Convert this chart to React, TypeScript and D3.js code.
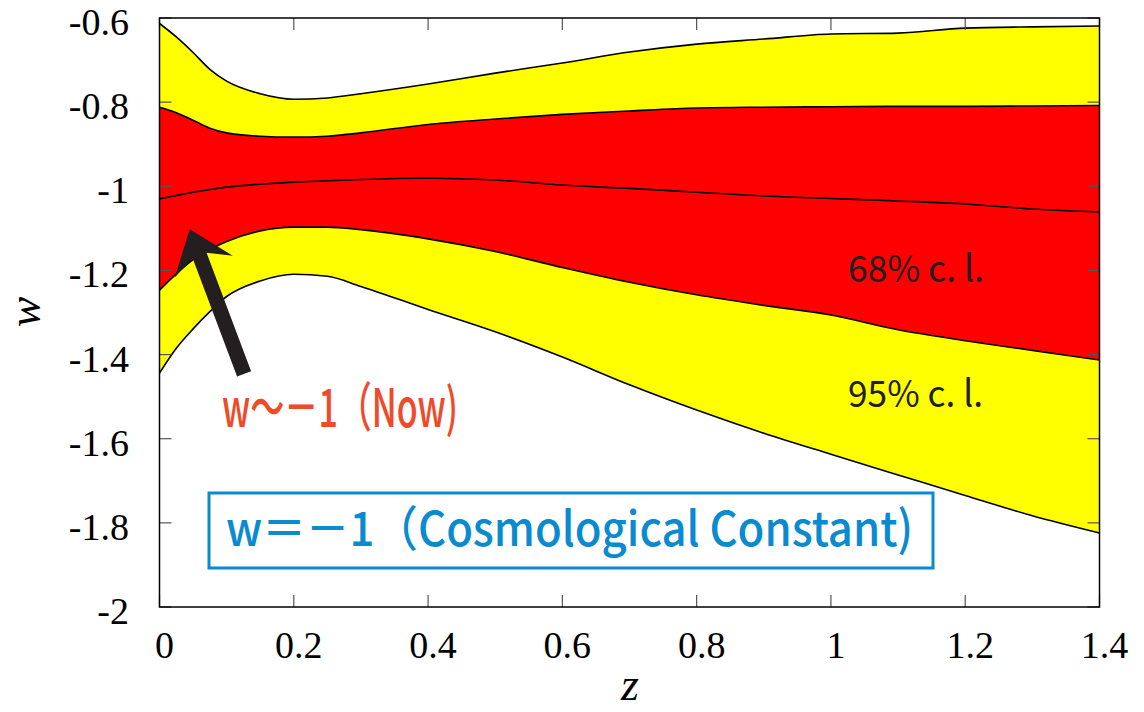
import * as d3 from "d3";
import React from "react";

// redshift grid and w(z) bands
const zGrid = [0, 0.025, 0.05, 0.075, 0.1, 0.15, 0.2, 0.25, 0.3, 0.4, 0.5, 0.6, 0.7, 0.8, 0.9, 1.0, 1.1, 1.2, 1.3, 1.4];
const upper95 = [-0.613, -0.645, -0.682, -0.722, -0.75, -0.78, -0.793, -0.79, -0.78, -0.757, -0.731, -0.707, -0.681, -0.662, -0.65, -0.638, -0.636, -0.624, -0.621, -0.619];
const upper68 = [-0.812, -0.825, -0.843, -0.862, -0.873, -0.881, -0.883, -0.881, -0.873, -0.853, -0.84, -0.829, -0.821, -0.814, -0.812, -0.811, -0.81, -0.81, -0.809, -0.808];
const median = [-1.03, -1.022, -1.014, -1.008, -1.002, -0.995, -0.99, -0.987, -0.984, -0.981, -0.985, -0.997, -1.005, -1.014, -1.023, -1.029, -1.035, -1.042, -1.054, -1.061];
const lower68 = [-1.247, -1.208, -1.174, -1.15, -1.131, -1.106, -1.097, -1.097, -1.103, -1.125, -1.155, -1.193, -1.228, -1.258, -1.283, -1.306, -1.341, -1.367, -1.39, -1.413];
const lower95 = [-1.444, -1.385, -1.339, -1.298, -1.262, -1.225, -1.209, -1.214, -1.238, -1.293, -1.346, -1.406, -1.472, -1.532, -1.587, -1.637, -1.686, -1.735, -1.783, -1.824];

const xTicks = [0, 0.2, 0.4, 0.6, 0.8, 1, 1.2, 1.4];
const yTicks = [-0.6, -0.8, -1, -1.2, -1.4, -1.6, -1.8, -2];

// arrow pointing at w~-1 today (tail, tip) in data units
const arrowTail = { z: 0.126, w: -1.446 };
const arrowTip = { z: 0.045, w: -1.102 };

const W = 1144;
const H = 712;
const left = 159.5, right = 1099.5, top = 18, bottom = 607;

const serif = "'Liberation Serif', 'Times New Roman', Times, serif";
const gothic = "'Noto Sans CJK JP', 'Noto Sans', sans-serif";

export default function App() {
  const x = d3.scaleLinear().domain([0, 1.4]).range([left, right]);
  const y = d3.scaleLinear().domain([-2, -0.6]).range([bottom, top]);

  const band = (lo: number[], hi: number[]) =>
    d3.area<number>()
      .x((d, i) => x(zGrid[i]))
      .y0((d, i) => y(lo[i]))
      .y1((d, i) => y(hi[i]))
      .curve(d3.curveMonotoneX)(zGrid);

  const line = (vals: number[]) =>
    d3.line<number>()
      .x((d, i) => x(zGrid[i]))
      .y((d, i) => y(vals[i]))
      .curve(d3.curveMonotoneX)(zGrid);

  // arrow polygon built in pixel space from the scaled endpoints
  const tx = x(arrowTip.z), ty = y(arrowTip.w);
  const sx = x(arrowTail.z), sy = y(arrowTail.w);
  const len = Math.hypot(sx - tx, sy - ty);
  const ux = (sx - tx) / len, uy = (sy - ty) / len;
  const px = -uy, py = ux;
  const pt = (a: number, b: number, bx = tx, by = ty) => `${bx + ux * a + px * b},${by + uy * a + py * b}`;
  const arrowPts = [
    pt(0, 0),
    pt(40, 31),
    pt(28, 7.5),
    pt(0, 7.5, sx, sy),
    pt(0, -7.5, sx, sy),
    pt(28, -7.5),
    pt(40, -31),
  ].join(" ");

  const tickLen = 12;
  const tickStyle = { fontFamily: serif, fontSize: 38 };

  return (
    <svg width={W} height={H} style={{ position: "absolute", left: 0, top: 0, display: "block" }}>
      <rect width={W} height={H} fill="#fff" />
      <path d={band(lower95, upper95) || ""} fill="#ffff00" />
      <path d={band(lower68, upper68) || ""} fill="#ff0000" />
      {[upper95, upper68, median, lower68, lower95].map((v, i) => (
        <path key={i} d={line(v) || ""} fill="none" stroke="#000" strokeWidth={1.6} />
      ))}

      {/* ticks on all four sides */}
      <g stroke="#555" strokeWidth={1.2}>
        {xTicks.map((t) => (
          <g key={"x" + t}>
            <line x1={x(t)} x2={x(t)} y1={bottom} y2={bottom - tickLen} />
            <line x1={x(t)} x2={x(t)} y1={top} y2={top + tickLen} />
          </g>
        ))}
        {yTicks.map((t) => (
          <g key={"y" + t}>
            <line x1={left} x2={left + tickLen} y1={y(t)} y2={y(t)} />
            <line x1={right} x2={right - tickLen} y1={y(t)} y2={y(t)} />
          </g>
        ))}
      </g>
      <rect x={left} y={top} width={right - left} height={bottom - top} fill="none" stroke="#000" strokeWidth={1.5} />

      {/* tick labels */}
      {yTicks.map((t) => (
        <text key={"yl" + t} x={129} y={y(t) + 17} textAnchor="end" fill="#000" style={tickStyle}>{String(t)}</text>
      ))}
      {xTicks.map((t) => (
        <text key={"xl" + t} x={x(t) + 5} y={658} textAnchor="middle" fill="#000" style={tickStyle}>{String(t)}</text>
      ))}

      {/* axis titles */}
      <text transform="translate(40,312) rotate(-90)" textAnchor="middle" style={{ fontFamily: serif, fontStyle: "italic", fontSize: 46 }}>w</text>
      <text x={630} y={700} textAnchor="middle" style={{ fontFamily: serif, fontStyle: "italic", fontSize: 46 }}>z</text>

      {/* band labels */}
      <text x={848} y={282} fill="#231f20" textLength={136} lengthAdjust="spacingAndGlyphs" style={{ fontFamily: gothic, fontSize: 37 }}>68% c. l.</text>
      <text x={848} y={407} fill="#231f20" textLength={135} lengthAdjust="spacingAndGlyphs" style={{ fontFamily: gothic, fontSize: 37 }}>95% c. l.</text>

      {/* annotation arrow */}
      <polygon points={arrowPts} fill="#231f20" />
      <text x={222} y={427} fill="#ee4b2b" textLength={236} lengthAdjust="spacingAndGlyphs" style={{ fontFamily: gothic, fontSize: 53, fontWeight: 500 }}>w～－1（Now)</text>

      {/* cosmological constant box */}
      <rect x={209} y={493} width={724} height={75} fill="#fff" stroke="#0a8acf" strokeWidth={3} />
      <text x={226} y={546} fill="#0a8acf" textLength={687} lengthAdjust="spacingAndGlyphs" style={{ fontFamily: gothic, fontSize: 48, fontWeight: 500 }}>w＝－1（Cosmological Constant)</text>
    </svg>
  );
}
